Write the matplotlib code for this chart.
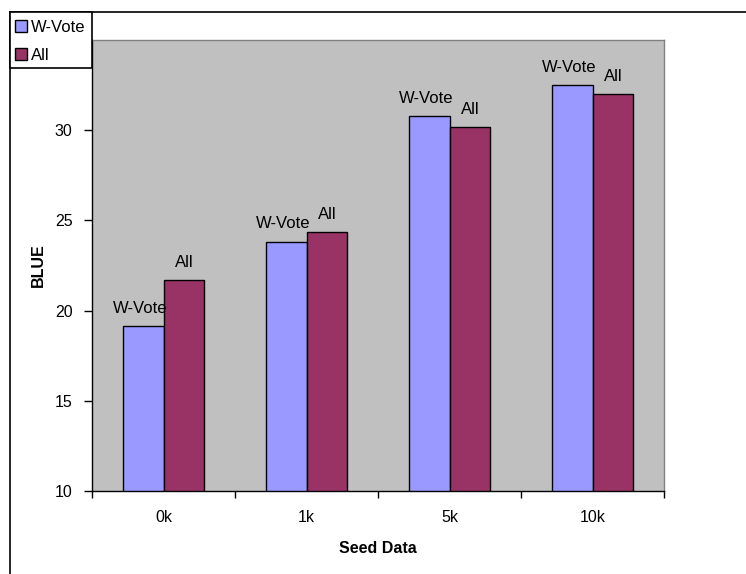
import matplotlib
matplotlib.use("Agg")
import matplotlib.pyplot as plt
from matplotlib.patches import Rectangle
from matplotlib.lines import Line2D
import numpy as np

categories = ["0k", "1k", "5k", "10k"]
wvote = [19.13, 23.83, 30.79, 32.48]
allv = [21.67, 24.33, 30.2, 32.0]
series_names = ["W-Vote", "All"]
yticks = [10, 15, 20, 25, 30]

plt.rcParams['font.family'] = ['Liberation Sans', 'DejaVu Sans']

W, H = 746, 574
fig = plt.figure(figsize=(W / 100, H / 100), dpi=100)
fig.patch.set_facecolor('white')

ax = fig.add_axes([92 / W, 1 - 491 / H, 572 / W, 451 / H])
ax.set_facecolor('#C0C0C0')

x = np.arange(len(categories))
bw = 1 / 3.5
c1, c2 = '#9999FF', '#993366'
b1 = ax.bar(x - bw / 2, wvote, bw, color=c1, edgecolor='black', linewidth=1, zorder=2)
b2 = ax.bar(x + bw / 2, allv, bw, color=c2, edgecolor='black', linewidth=1, zorder=2)

for xi, v in zip(x, wvote):
    ax.annotate(series_names[0], (xi - bw / 2, v), xytext=(-2, 9.4), textcoords='offset points',
                ha='center', va='baseline', fontsize=12, zorder=3)
for xi, v in zip(x, allv):
    ax.annotate(series_names[1], (xi + bw / 2, v), xytext=(0, 9.4), textcoords='offset points',
                ha='center', va='baseline', fontsize=12, zorder=3)

ax.set_xlim(-0.5, len(categories) - 0.5)
ax.set_ylim(10, 35)
ax.set_yticks(yticks)
ax.tick_params(axis='y', direction='out', length=6, width=1, pad=8, labelsize=11.5)

ax.set_xticks(np.arange(len(categories) + 1) - 0.5)
ax.set_xticklabels([])
ax.set_xticks(x, minor=True)
ax.set_xticklabels(categories, minor=True)
ax.tick_params(axis='x', which='major', direction='out', length=5, width=1)
ax.tick_params(axis='x', which='minor', length=0, pad=14, labelsize=11.5)

for s in ['left', 'bottom']:
    ax.spines[s].set_color('black')
    ax.spines[s].set_linewidth(1)
for s in ['top', 'right']:
    ax.spines[s].set_color('#808080')
    ax.spines[s].set_linewidth(1)

ax.set_ylabel('BLUE', fontsize=11.5, fontweight='bold')
ax.yaxis.set_label_coords((46 - 92) / 572, 0.5)
ax.set_xlabel('Seed Data', fontsize=11.5, fontweight='bold')
ax.xaxis.set_label_coords(0.5, (491 - 541) / 451)

# outer frame lines
fig.add_artist(Line2D([10 / W, 10 / W], [0, 1 - 12 / H], transform=fig.transFigure, color='black', lw=1.2))
fig.add_artist(Line2D([10 / W, 1], [1 - 12 / H, 1 - 12 / H], transform=fig.transFigure, color='black', lw=1.2))

# legend box
fig.add_artist(Rectangle((10 / W, 1 - 68 / H), 82 / W, 56 / H, transform=fig.transFigure,
                         facecolor='white', edgecolor='black', lw=1.2, zorder=5))
leg = fig.legend([b1, b2], series_names, loc='upper left',
                 bbox_to_anchor=(13 / W, 1 - 18 / H), bbox_transform=fig.transFigure,
                 frameon=False, fontsize=12, handlelength=0.75, handleheight=0.75,
                 handletextpad=0.2, borderpad=0.1, labelspacing=0.8, borderaxespad=0)
leg.set_zorder(6)

fig.savefig('out.png', dpi=100)
